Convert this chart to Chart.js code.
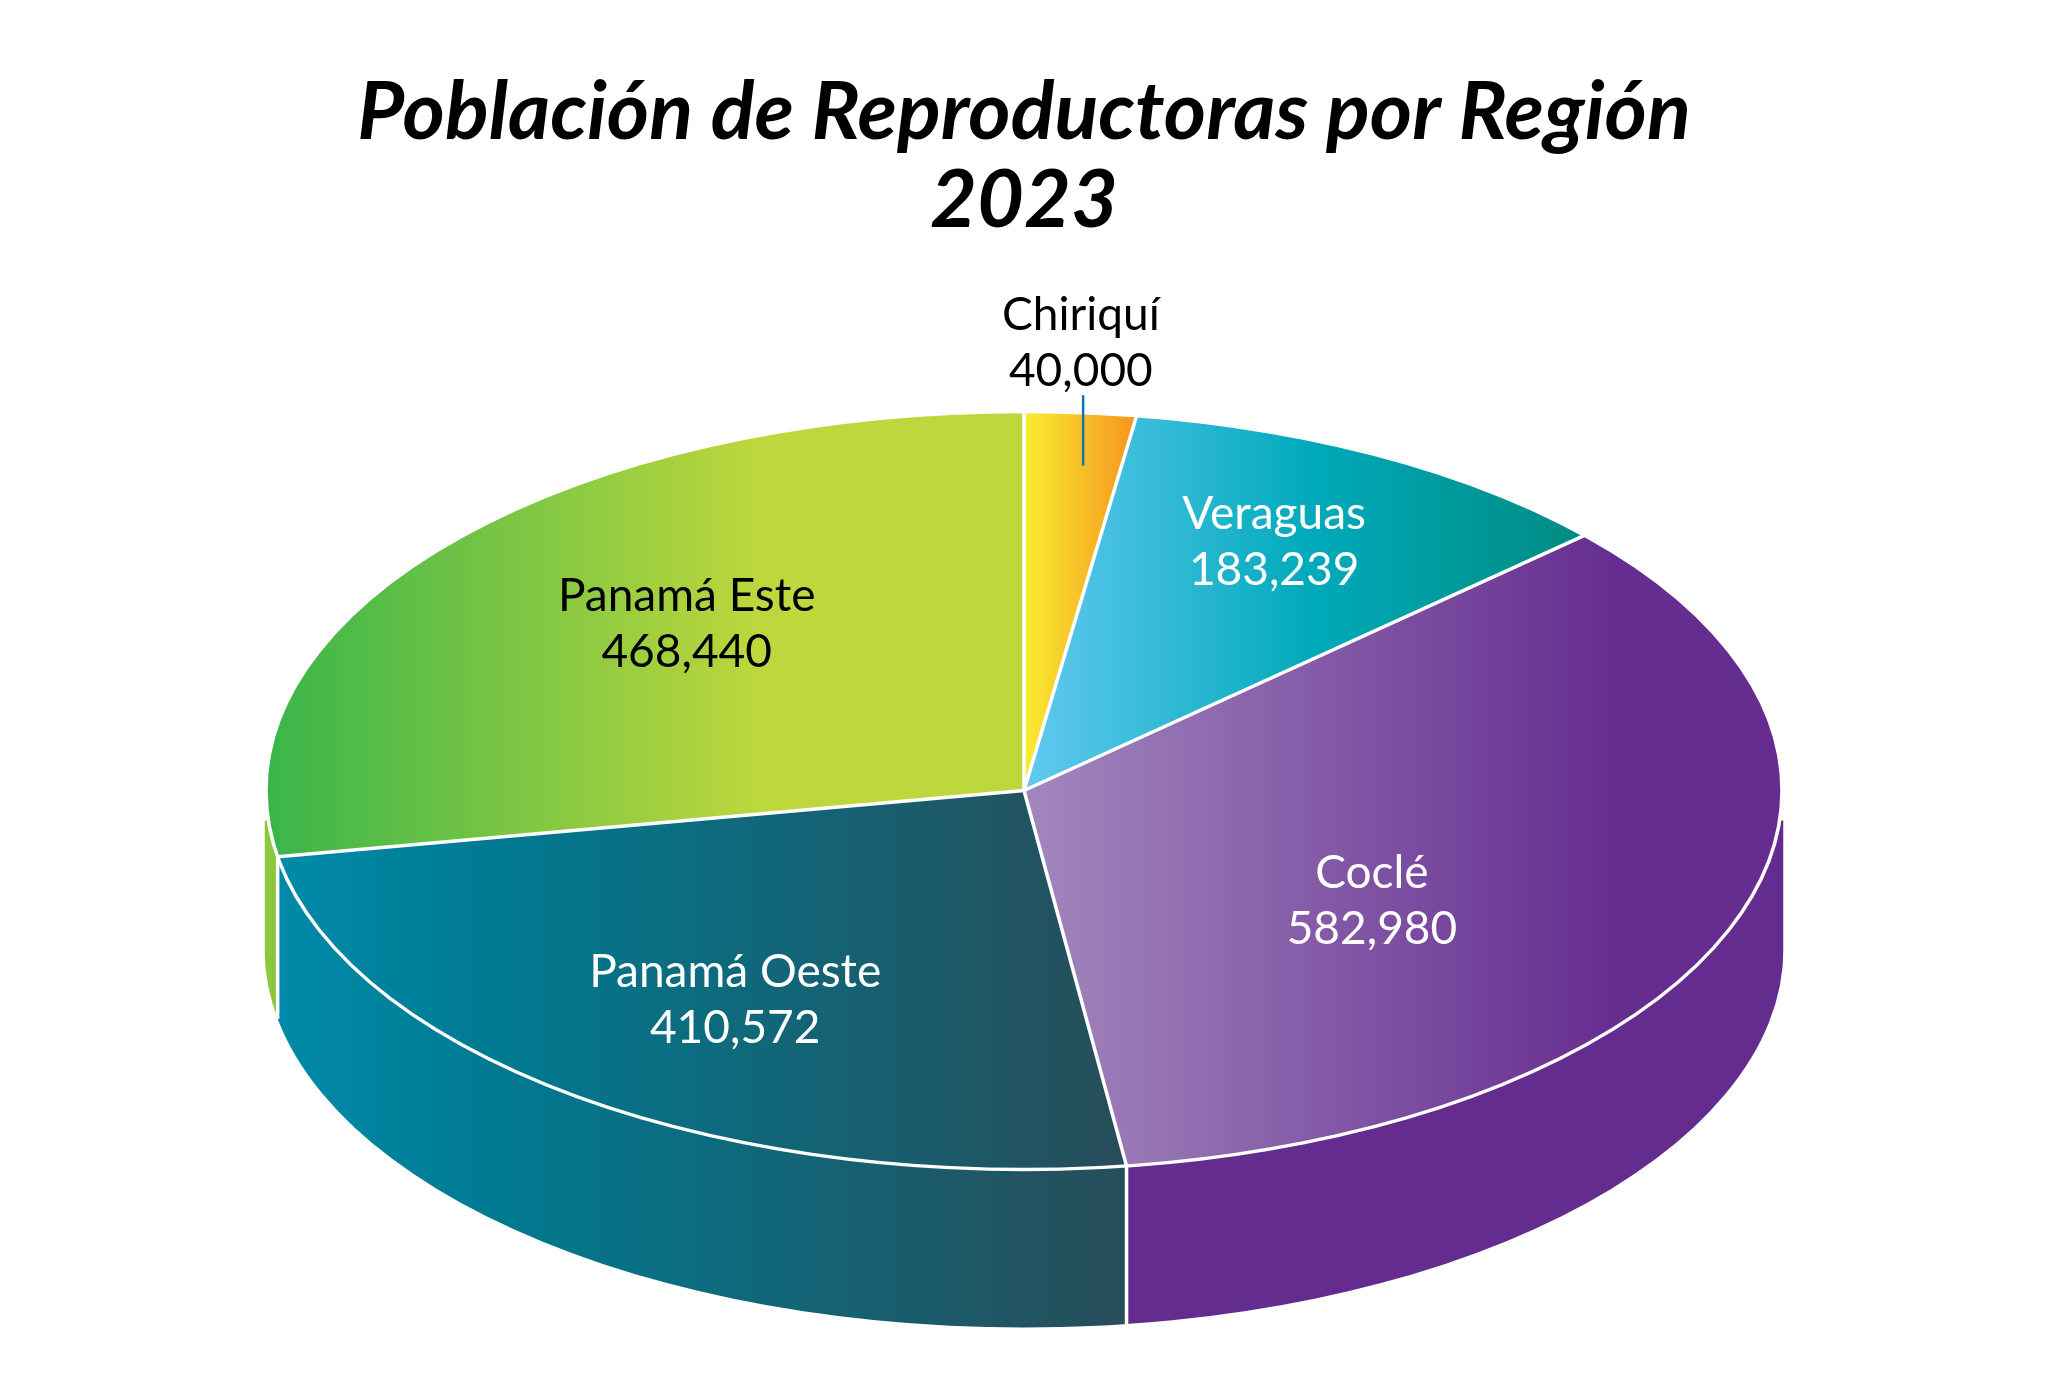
<!DOCTYPE html>
<html lang="es">
<head>
<meta charset="utf-8">
<style>html,body{margin:0;padding:0;background:#fff}#box{position:relative;width:2048px;height:1396px}</style>
<script src="https://cdn.jsdelivr.net/npm/chart.js@4"></script>
</head>
<body>
<div id="box"><canvas id="c" width="2048" height="1396"></canvas></div>
<script>
const titleLines = ['Población de Reproductoras por Región', '2023'];
const categories = ['Chiriquí', 'Veraguas', 'Coclé', 'Panamá Oeste', 'Panamá Este'];
const values = [40000, 183239, 582980, 410572, 468440];
const labelColors = ['#000000', '#ffffff', '#ffffff', '#ffffff', '#000000'];
// Label centres, in units of the ellipse radii, measured from the pie centre
const labelAnchors = [[0.075, -1.181], [0.330, -0.655], [0.459, 0.293], [-0.381, 0.552], [-0.445, -0.438]];
// Horizontal gradients: [position in radius units, colour]
const topGradients = [
  [[0.0, '#f8ed32'], [0.148, '#f7941e']],
  [[0.0, '#62c9f0'], [0.38, '#00aaba'], [0.75, '#008a80']],
  [[0.0, '#a287bd'], [0.78, '#662d91']],
  [[-0.985, '#008aa9'], [-0.70, '#007a91'], [0.135, '#274d59']],
  [[-1.0, '#39b54a'], [-0.35, '#bdd73c'], [0.0, '#bdd73c']]
];
const wallGradients = [null, null, [[0, '#652c8f'], [1, '#652c8f']], topGradients[3], [[-1, '#8dc63f'], [-0.9, '#8dc63f']]];

const RADIUS = 758, SQUASH = 0.5, DEPTH = 158, WALL_PAD = 1.5, WALL_TOP = 30;
const CENTER_X = 1024, CENTER_Y = 790.5;
const LABEL_FONT = '400 46px Lato', LABEL_LINE = 56;
const TITLE_BLOCK = 257;

function gradientFor(ctx, stops, cx, r) {
  const a = stops[0][0], b = stops[stops.length - 1][0];
  const g = ctx.createLinearGradient(cx + a * r, 0, cx + b * r, 0);
  stops.forEach(s => g.addColorStop((s[0] - a) / (b - a), s[1]));
  return g;
}

const pseudo3d = {
  id: 'pseudo3d',
  beforeDatasetDraw(chart, args) {
    const ctx = chart.ctx, arcs = args.meta.data;
    const cx = arcs[0].x, cy = arcs[0].y, r = arcs[0].outerRadius, ry = r * SQUASH;
    const W = r + WALL_PAD;
    arcs.forEach((arc, i) => {
      const a0 = Math.max(arc.startAngle, 0), a1 = Math.min(arc.endAngle, Math.PI);
      if (a0 >= a1 || !wallGradients[i]) return;
      const xr = a0 === 0 ? cx + W : cx + r * Math.cos(a0);
      const xl = a1 === Math.PI ? cx - W : cx + r * Math.cos(a1);
      ctx.save();
      ctx.beginPath();
      ctx.rect(xl, 0, xr - xl, chart.height);
      ctx.clip();
      ctx.beginPath();
      ctx.moveTo(cx - W, cy + WALL_TOP);
      ctx.lineTo(cx - W, cy + DEPTH);
      ctx.ellipse(cx, cy + DEPTH, W, ry, 0, Math.PI, 0, true);
      ctx.lineTo(cx + W, cy + WALL_TOP);
      ctx.closePath();
      ctx.fillStyle = gradientFor(ctx, wallGradients[i], cx, r);
      ctx.fill();
      ctx.restore();
    });
    ctx.save();
    ctx.translate(cx, cy);
    ctx.scale(1, SQUASH);
    ctx.translate(-cx, -cy);
  },
  afterDatasetDraw(chart, args) {
    const ctx = chart.ctx, arcs = args.meta.data;
    ctx.restore();
    const cx = arcs[0].x, cy = arcs[0].y, r = arcs[0].outerRadius, ry = r * SQUASH;
    ctx.save();
    ctx.strokeStyle = '#ffffff';
    ctx.lineWidth = 3.5;
    ctx.lineCap = 'butt';
    ctx.beginPath();
    ctx.ellipse(cx, cy, r, ry, 0, 0, Math.PI * 2);
    ctx.stroke();
    arcs.forEach(arc => {
      const px = cx + r * Math.cos(arc.startAngle), py = cy + ry * Math.sin(arc.startAngle);
      ctx.beginPath();
      ctx.moveTo(cx, cy);
      ctx.lineTo(px, py);
      ctx.stroke();
      if (Math.sin(arc.startAngle) > 0) {
        ctx.beginPath();
        ctx.moveTo(px, py);
        const dy = Math.sqrt(Math.max(0, 1 - Math.pow((px - cx) / (r + WALL_PAD), 2))) * ry;
        ctx.lineTo(px, cy + DEPTH + dy);
        ctx.stroke();
      }
    });
    // Leader line of the first slice
    ctx.strokeStyle = '#1273b5';
    ctx.lineWidth = 2.5;
    const lx = cx + r * 0.078;
    ctx.beginPath();
    ctx.moveTo(lx, cy - ry * 1.043);
    ctx.lineTo(lx, cy - ry * 0.857);
    ctx.stroke();
    // Labels
    ctx.font = LABEL_FONT;
    ctx.textAlign = 'center';
    ctx.textBaseline = 'middle';
    categories.forEach((name, i) => {
      const x = cx + labelAnchors[i][0] * r, y = cy + labelAnchors[i][1] * ry;
      ctx.fillStyle = labelColors[i];
      ctx.fillText(name, x, y - LABEL_LINE / 2);
      ctx.fillText(values[i].toLocaleString('en-US'), x, y + LABEL_LINE / 2);
    });
    ctx.restore();
  }
};

new Chart(document.getElementById('c'), {
  type: 'pie',
  data: {
    labels: categories,
    datasets: [{
      data: values,
      borderWidth: 0,
      clip: false,
      radius: RADIUS,
      backgroundColor: c => {
        const stops = topGradients[c.dataIndex];
        const area = c.chart.chartArea;
        if (!area) return stops[0][1];
        return gradientFor(c.chart.ctx, stops, (area.left + area.right) / 2, RADIUS);
      }
    }]
  },
  options: {
    responsive: false,
    animation: false,
    layout: { padding: { top: 57, bottom: 1396 - (2 * CENTER_Y - TITLE_BLOCK), left: 0, right: 2048 - 2 * CENTER_X } },
    plugins: {
      legend: { display: false },
      tooltip: { enabled: false },
      title: {
        display: true,
        text: titleLines,
        color: '#000000',
        font: { family: 'Lato', size: 81, weight: '700', style: 'italic', lineHeight: '88px' },
        padding: { top: 12, bottom: 12 }
      }
    }
  },
  plugins: [pseudo3d]
});
</script>
</body>
</html>
